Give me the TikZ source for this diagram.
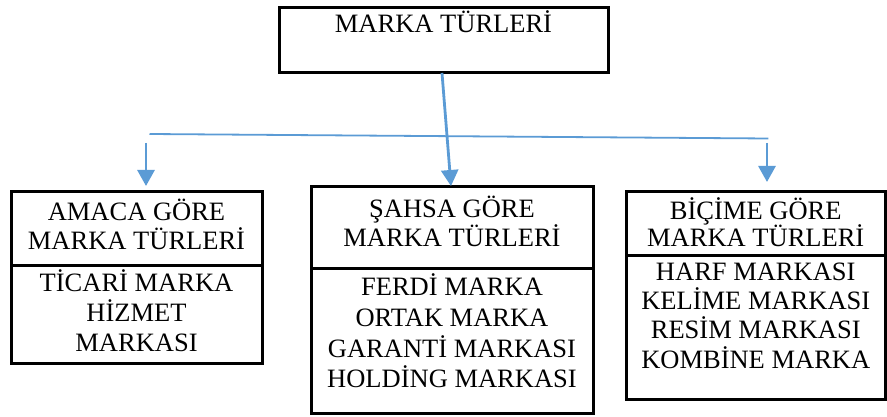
\documentclass[tikz,border=0pt]{standalone}
\usepackage{fontspec}
\setmainfont{Liberation Serif}
\usetikzlibrary{arrows.meta,calc}
\definecolor{arrblue}{HTML}{5B9BD5}
\begin{document}
\begin{tikzpicture}[x=1pt,y=-1pt,
  boxst/.style={draw=black,line width=3pt,rectangle,inner sep=0pt,outer sep=0pt},
  txt/.style={anchor=base,inner sep=0pt,font=\fontsize{26.5}{30}\selectfont},
  arr/.style={draw=arrblue,line width=2.8pt,-{Triangle[width=17pt,length=16pt]}},
  hline/.style={draw=arrblue,line width=1.8pt}]
\useasboundingbox (0,0) rectangle (887,417);
% top box
\node[boxst,minimum width=329pt,minimum height=65pt] (top) at (443.5,40.5) {};
\node[txt] (t0) at (443.5,33) {MARKA TÜRLERİ};
% left box
\node[boxst,minimum width=251pt,minimum height=73pt] (leftH) at (136.5,228.5) {};
\node[boxst,minimum width=251pt,minimum height=98pt] (leftL) at (136.5,314) {};
\node[txt] (la1) at (136.5,221) {AMACA GÖRE};
\node[txt] (la2) at (136.5,249) {MARKA TÜRLERİ};
\node[txt] (lb1) at (136.5,291) {TİCARİ MARKA};
\node[txt] (lb2) at (136.5,321) {HİZMET};
\node[txt] (lb3) at (136.5,351) {MARKASI};
% middle box
\node[boxst,minimum width=282pt,minimum height=81pt] (midH) at (452,227.5) {};
\node[boxst,minimum width=282pt,minimum height=145pt] (midL) at (452,340.5) {};
\node[txt] (ma1) at (452,218) {ŞAHSA GÖRE};
\node[txt] (ma2) at (452,247) {MARKA TÜRLERİ};
\node[txt] (mb1) at (452,295) {FERDİ MARKA};
\node[txt] (mb2) at (452,326) {ORTAK MARKA};
\node[txt] (mb3) at (452,357) {GARANTİ MARKASI};
\node[txt] (mb4) at (452,387) {HOLDİNG MARKASI};
% right box
\node[boxst,minimum width=259.5pt,minimum height=63pt] (rightH) at (755.75,223.5) {};
\node[boxst,minimum width=259.5pt,minimum height=144pt] (rightL) at (755.75,327) {};
\node[txt] (ra1) at (755.75,219) {BİÇİME GÖRE};
\node[txt] (ra2) at (755.75,247) {MARKA TÜRLERİ};
\node[txt] (rb1) at (755.75,280) {HARF MARKASI};
\node[txt] (rb2) at (755.75,309) {KELİME MARKASI};
\node[txt] (rb3) at (755.75,338) {RESİM MARKASI};
\node[txt] (rb4) at (755.75,368) {KOMBİNE MARKA};
% connectors
\coordinate (hl) at (149.5,134);
\coordinate (hr) at (768.4,138.5);
\draw[hline] (hl) -- (hr);
\draw[arr] ($(top.south)+(-1.5,0)$) -- ($(midH.north)+(-1,-1)$);
\coordinate (la) at (146,143);
\draw[arr] (la) -- ($(la |- leftH.north)+(0,-6)$);
\coordinate (ra) at (767,143);
\draw[arr] (ra) -- ($(ra |- rightH.north)+(0,-10)$);
\end{tikzpicture}
\end{document}
